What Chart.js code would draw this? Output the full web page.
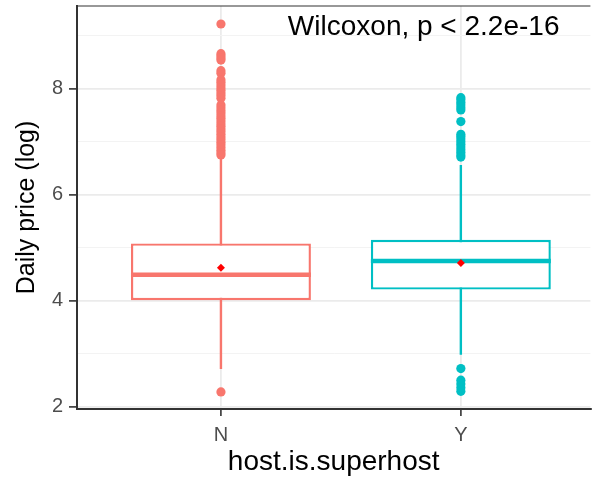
<!DOCTYPE html>
<html>
<head>
<meta charset="utf-8">
<script src="https://cdn.jsdelivr.net/npm/chart.js@4.4.1/dist/chart.umd.min.js"></script>
<style>
  html, body { margin: 0; padding: 0; background: #fff; }
  #wrap { width: 595px; height: 484px; }
</style>
</head>
<body>
<div id="wrap"><canvas id="boxChart"></canvas></div>
<script>
// box statistics of log daily price, split by superhost flag
const groups = ['N', 'Y'];
const groupPos = [1, 2];
const q1 = [4.01, 4.21];
const median = [4.49, 4.75];
const q3 = [5.08, 5.15];
const mean = [4.62, 4.71];
const whiskerLow = [2.71, 2.98];
const whiskerHigh = [6.69, 6.56];
const outliersN = [9.22, 8.66, 8.62, 8.58, 8.54, 8.34, 8.29, 8.17, 8.12, 8.07, 8.02, 7.97, 7.92,
  7.87, 7.82, 7.69, 7.64, 7.59, 7.54, 7.49, 7.44, 7.39, 7.34, 7.29, 7.24, 7.19, 7.14, 7.09,
  7.04, 6.99, 6.94, 6.89, 6.84, 6.79, 6.75, 2.28];
const outliersY = [7.83, 7.79, 7.74, 7.69, 7.64, 7.60, 7.38, 7.14, 7.10, 7.05, 7.00, 6.95, 6.90,
  6.85, 6.80, 6.75, 6.71, 2.72, 2.50, 2.43, 2.36, 2.29];
const yTicks = [2, 3, 4, 5, 6, 7, 8, 9];
const testLabel = 'Wilcoxon, p < 2.2e-16';

const colors = ['#F8766D', '#00BFC4'];
const boxWidth = 0.75;
const font = "'Liberation Sans', Arial, sans-serif";
const isMajor = v => v % 2 === 0;

// first dataset is painted last, so the list runs from top layer to bottom
const datasets = [];
datasets.push({
  type: 'scatter',
  data: groupPos.map((x, i) => ({ x, y: mean[i] })),
  pointStyle: 'rectRot',
  pointRadius: 4,
  backgroundColor: '#FF0000',
  borderWidth: 0
});
groupPos.forEach((x, i) => {
  datasets.push({
    type: 'line',
    data: [{ x: x - boxWidth / 2, y: median[i] }, { x: x + boxWidth / 2, y: median[i] }],
    borderColor: colors[i],
    borderWidth: 4.5,
    pointRadius: 0
  });
});
datasets.push({
  type: 'bar',
  data: groupPos.map((x, i) => ({ x, y: [q1[i], q3[i]] })),
  backgroundColor: '#FFFFFF',
  borderColor: colors,
  borderWidth: 2.4,
  borderSkipped: false,
  barPercentage: boxWidth,
  categoryPercentage: 1
});
[outliersN, outliersY].forEach((vals, i) => {
  datasets.push({
    type: 'scatter',
    data: vals.map(y => ({ x: groupPos[i], y })),
    pointRadius: 4.6,
    backgroundColor: colors[i],
    borderWidth: 0
  });
});
groupPos.forEach((x, i) => {
  datasets.push({
    type: 'line',
    data: [{ x, y: whiskerLow[i] }, { x, y: whiskerHigh[i] }],
    borderColor: colors[i],
    borderWidth: 2.4,
    pointRadius: 0
  });
});

// top panel border and the test annotation
const panelExtras = {
  id: 'panelExtras',
  afterDraw(chart) {
    const { ctx, chartArea: a, scales } = chart;
    ctx.save();
    ctx.strokeStyle = '#333333';
    ctx.lineWidth = 1.2;
    ctx.beginPath();
    ctx.moveTo(a.left, a.top);
    ctx.lineTo(a.right, a.top);
    ctx.stroke();
    ctx.fillStyle = '#000000';
    ctx.font = '28px ' + font;
    ctx.textAlign = 'center';
    ctx.textBaseline = 'alphabetic';
    ctx.fillText(testLabel, scales.x.getPixelForValue(1.845), a.top + 29);
    ctx.restore();
  }
};

new Chart(document.getElementById('boxChart'), {
  type: 'bar',
  data: { datasets },
  options: {
    responsive: true,
    maintainAspectRatio: false,
    animation: false,
    layout: { padding: { top: 6, left: 0, right: 0, bottom: 0 } },
    plugins: {
      legend: { display: false },
      tooltip: { enabled: false }
    },
    scales: {
      x: {
        type: 'linear',
        min: 0.4,
        max: 2.54,
        offset: false,
        afterBuildTicks: s => { s.ticks = groupPos.map(v => ({ value: v })); },
        afterFit: s => {
          s.height = 75;
          s.paddingLeft = 0;
          s.paddingRight = 0;
        },
        ticks: {
          callback: v => groups[groupPos.indexOf(v)],
          font: { family: font, size: 20 },
          color: '#4D4D4D',
          padding: 7,
          maxRotation: 0,
          autoSkip: false
        },
        grid: {
          offset: false,
          color: '#EBEBEB',
          lineWidth: 1.8,
          tickColor: '#333333',
          tickLength: 7,
          tickWidth: 1.6
        },
        border: { display: true, color: '#333333', width: 2 },
        title: {
          display: true,
          text: 'host.is.superhost',
          font: { family: font, size: 28 },
          color: '#000000',
          padding: { top: 0, bottom: 5 }
        }
      },
      y: {
        type: 'linear',
        min: 1.957,
        max: 9.56,
        afterBuildTicks: s => { s.ticks = yTicks.map(v => ({ value: v })); },
        afterFit: s => {
          s.width = 77;
          s.paddingTop = 0;
          s.paddingBottom = 0;
        },
        ticks: {
          callback: v => isMajor(v) ? String(v) : '',
          font: { family: font, size: 20 },
          color: '#4D4D4D',
          padding: 6
        },
        grid: {
          color: c => c.tick && isMajor(c.tick.value) ? '#EBEBEB' : '#F3F3F3',
          lineWidth: c => c.tick && isMajor(c.tick.value) ? 1.8 : 1,
          tickColor: c => c.tick && isMajor(c.tick.value) ? '#333333' : 'rgba(0,0,0,0)',
          tickLength: 8,
          tickWidth: 1.6
        },
        border: { display: true, color: '#333333', width: 2 },
        title: {
          display: true,
          text: 'Daily price (log)',
          font: { family: font, size: 25 },
          color: '#000000',
          padding: { top: 12, bottom: 0 }
        }
      }
    }
  },
  plugins: [panelExtras]
});
</script>
</body>
</html>
